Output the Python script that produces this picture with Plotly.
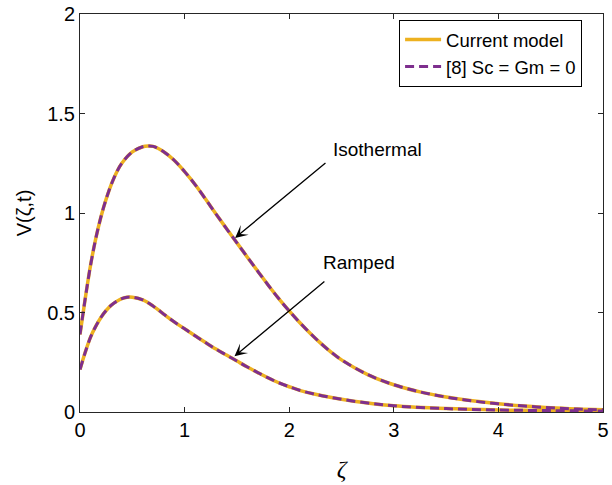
import plotly.graph_objects as go

# ---- data ----
zeta_iso = [0, 0.05, 0.1, 0.15, 0.2, 0.25, 0.3, 0.35, 0.4, 0.5, 0.6, 0.65, 0.7, 0.8, 0.9,
            1.0, 1.1, 1.2, 1.3, 1.4, 1.5, 1.6, 1.7, 1.8, 1.9, 2.0, 2.1, 2.2, 2.3, 2.4, 2.5,
            2.75, 3.0, 3.25, 3.5, 3.75, 4.0, 4.25, 4.5, 4.75, 5.0]
v_iso = [0.39, 0.57, 0.735, 0.87, 0.98, 1.07, 1.145, 1.205, 1.25, 1.307, 1.333, 1.337,
         1.335, 1.308, 1.265, 1.208, 1.143, 1.070, 0.995, 0.922, 0.850, 0.778, 0.707,
         0.637, 0.570, 0.508, 0.450, 0.396, 0.346, 0.301, 0.262, 0.188, 0.137, 0.101,
         0.075, 0.056, 0.041, 0.030, 0.021, 0.015, 0.011]

zeta_ramp = [0, 0.05, 0.1, 0.15, 0.2, 0.25, 0.3, 0.35, 0.4, 0.45, 0.5, 0.6, 0.7, 0.8,
             0.9, 1.0, 1.1, 1.2, 1.3, 1.4, 1.5, 1.6, 1.7, 1.8, 1.9, 2.0, 2.1, 2.25, 2.5,
             2.75, 3.0, 3.5, 4.0, 4.5, 5.0]
v_ramp = [0.213, 0.30, 0.375, 0.43, 0.475, 0.51, 0.537, 0.556, 0.570, 0.577, 0.577,
          0.563, 0.532, 0.492, 0.453, 0.418, 0.383, 0.349, 0.316, 0.286, 0.256, 0.226,
          0.198, 0.171, 0.147, 0.127, 0.109, 0.089, 0.064, 0.045, 0.031, 0.017, 0.010,
          0.007, 0.005]

x_ticks = [0, 1, 2, 3, 4, 5]
y_ticks = [0, 0.5, 1, 1.5, 2]
y_tick_labels = ["0", "0.5", "1", "1.5", "2"]

legend_names = ["Current model", "[8] Sc = Gm = 0"]

# annotation: label, text anchor, arrow tail, arrow tip (data units)
annot_labels = ["Isothermal", "Ramped"]
annot_text_pos = [(2.40, 1.32), (2.30, 0.75)]
annot_tail = [(2.361, 1.258), (2.351, 0.662)]
annot_tip = [(1.483, 0.875), (1.477, 0.280)]

ORANGE = "#EDB120"
PURPLE = "#7E2F8E"
FONT = "Liberation Sans, Arial, Helvetica, sans-serif"
AXC = "#262626"

fig = go.Figure()

for zs, vs, show in [(zeta_iso, v_iso, True), (zeta_ramp, v_ramp, False)]:
    fig.add_trace(go.Scatter(x=zs, y=vs, mode="lines", name=legend_names[0],
                             showlegend=show,
                             line=dict(color=ORANGE, width=3.5, shape="spline", smoothing=1)))
for zs, vs, show in [(zeta_iso, v_iso, True), (zeta_ramp, v_ramp, False)]:
    fig.add_trace(go.Scatter(x=zs, y=vs, mode="lines", name=legend_names[1],
                             showlegend=show,
                             line=dict(color=PURPLE, width=3, dash="9px,5px",
                                       shape="spline", smoothing=1)))

annotations = []
for lab, tp, tail, tip in zip(annot_labels, annot_text_pos, annot_tail, annot_tip):
    annotations.append(dict(x=tip[0], y=tip[1], ax=tail[0], ay=tail[1],
                            xref="x", yref="y", axref="x", ayref="y",
                            text="", showarrow=True, arrowhead=3, arrowsize=1.6,
                            arrowwidth=1.3, arrowcolor="black"))
    annotations.append(dict(x=tp[0], y=tp[1], xref="x", yref="y", text=lab,
                            showarrow=False, xanchor="left", yanchor="middle",
                            font=dict(family=FONT, size=19, color="black")))

fig.update_layout(
    width=612, height=485,
    margin=dict(l=80, r=9, t=14, b=73),
    paper_bgcolor="white", plot_bgcolor="white",
    font=dict(family=FONT, size=20, color="black"),
    showlegend=True,
    legend=dict(x=0.96, xanchor="right", y=0.985, yanchor="top",
                bgcolor="white", bordercolor="black", borderwidth=1,
                font=dict(family=FONT, size=18.5, color="black"),
                tracegroupgap=0, itemwidth=36),
    annotations=annotations,
    xaxis=dict(range=[0, 5], tickvals=x_ticks, ticks="inside", ticklen=5, tickcolor=AXC,
               showline=True, linecolor=AXC, linewidth=1, mirror="ticks",
               showgrid=False, zeroline=False, automargin=False,
               tickfont=dict(family=FONT, size=20, color="black"),
               title=dict(text="<i>ζ</i>", standoff=20,
                          font=dict(family="Liberation Serif, Times New Roman, serif",
                                    size=24, color="black"))),
    yaxis=dict(range=[0, 2], tickvals=y_ticks, ticktext=y_tick_labels, ticks="inside",
               ticklen=5, tickcolor=AXC,
               showline=True, linecolor=AXC, linewidth=1, mirror="ticks",
               showgrid=False, zeroline=False, automargin=False,
               tickfont=dict(family=FONT, size=20, color="black"),
               title=dict(text="V(ζ,t)", standoff=10,
                          font=dict(family=FONT, size=20, color="black"))),
)

fig.write_html("out.html")
